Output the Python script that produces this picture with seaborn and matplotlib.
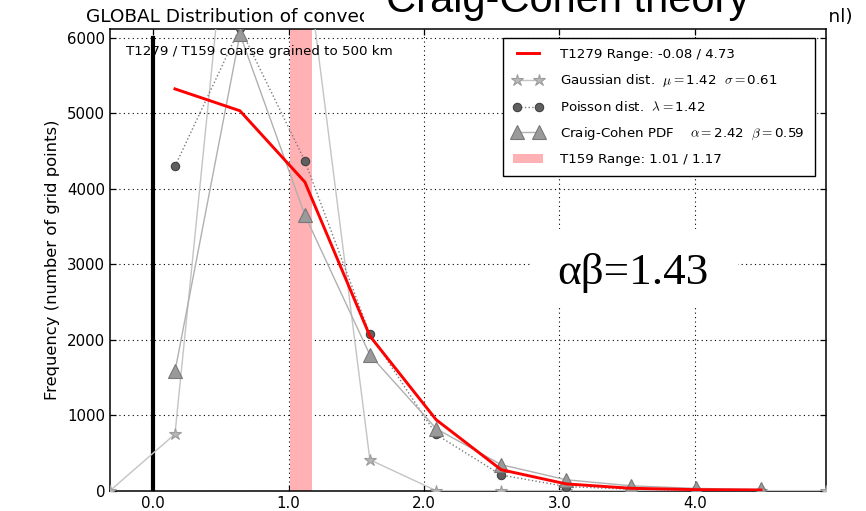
import matplotlib
matplotlib.use("Agg")
import matplotlib.pyplot as plt
import seaborn as sns
import pandas as pd
from matplotlib.patches import Rectangle, Patch
from matplotlib.ticker import FormatStrFormatter

# Bin centres of the convection-intensity histogram (10 bins over the T1279 range)
bin_centres = [0.16, 0.64, 1.12, 1.60, 2.09, 2.57, 3.05, 3.53, 4.01, 4.49]
# The Gaussian fit is evaluated on one extra bin at each side
gauss_centres = [-0.32, 0.16, 0.64, 1.12, 1.60, 2.09, 2.57, 3.05, 3.53, 4.01, 4.49, 4.97]

t1279_counts = [5325, 5035, 4090, 2050, 940, 278, 90, 32, 14, 9]
gauss_counts = [0, 750, 9300, 7200, 410, 0, 0, 0, 0, 0, 0, 0]
poisson_counts = [4300, 6135, 4370, 2075, 745, 208, 55, 20, 4, 1]
craig_cohen_counts = [1580, 6050, 3650, 1800, 822, 345, 145, 65, 30, 17]

t1279_range = (-0.08, 4.73)
t159_range = (1.01, 1.17)
gauss_mu, gauss_sigma = 1.42, 0.61
poisson_lambda = 1.42
cc_alpha, cc_beta = 2.42, 0.59
alpha_beta = 1.43

zero_line_x = [0.0, 0.0]
zero_line_y = [0, 6000]

y_ticks = [0, 1000, 2000, 3000, 4000, 5000, 6000]
x_ticks = [0.0, 1.0, 2.0, 3.0, 4.0]

sns.set_theme(style="white")
plt.rcParams.update({
    "font.family": ["DejaVu Sans"],
    "mathtext.fontset": "cm",
    "text.color": "black",
    "axes.labelcolor": "black",
    "xtick.color": "black",
    "ytick.color": "black",
    "axes.edgecolor": "black",
    "axes.linewidth": 1.1,
    "xtick.direction": "in",
    "ytick.direction": "in",
    "xtick.top": True,
    "ytick.right": True,
    "xtick.bottom": True,
    "ytick.left": True,
    "xtick.major.size": 4,
    "ytick.major.size": 4,
    "xtick.major.width": 0.9,
    "ytick.major.width": 0.9,
    "lines.solid_capstyle": "projecting",
})

W, H = 866, 511
fig = plt.figure(figsize=(W / 100, H / 100), dpi=100)
fig.patch.set_facecolor("white")
ax_left, ax_right, ax_top, ax_bottom = 110, 826, 29.3, 490.7
ax = fig.add_axes([ax_left / W, 1 - ax_bottom / H, (ax_right - ax_left) / W, (ax_bottom - ax_top) / H])
ax.set_facecolor("white")

df_bins = pd.DataFrame({
    "centre": bin_centres,
    "t1279": t1279_counts,
    "poisson": poisson_counts,
    "craig": craig_cohen_counts,
})
df_gauss = pd.DataFrame({"centre": gauss_centres, "gauss": gauss_counts})

# grid under everything
ax.set_axisbelow(True)
ax.grid(True, color="black", linestyle=(0, (1, 3)), linewidth=0.8)

# T159 range band
ax.axvspan(*t159_range, color="#ffb1b4", lw=0, zorder=1)

# zero reference line
ax.plot(zero_line_x, zero_line_y, color="black", lw=3, zorder=2)

sns.lineplot(data=df_bins, x="centre", y="t1279", ax=ax, color="red", lw=2.1,
             zorder=6, label=f"T1279 Range: {t1279_range[0]:.2f} / {t1279_range[1]:.2f}")
sns.lineplot(data=df_gauss, x="centre", y="gauss", ax=ax, color="#c4c4c4", lw=1.0,
             marker="*", markersize=9, markerfacecolor="#b8b8b8", markeredgecolor="#9c9c9c",
             markeredgewidth=0.8, zorder=3,
             label=rf"Gaussian dist.  $\mu=$" + f"{gauss_mu:.2f}" + rf"  $\sigma=$" + f"{gauss_sigma:.2f}")
sns.lineplot(data=df_bins, x="centre", y="poisson", ax=ax, color="#7a7a7a", lw=1.0,
             linestyle=":", marker="o", markersize=6, markerfacecolor="#606060",
             markeredgecolor="#404040", markeredgewidth=0.8, zorder=4,
             label=rf"Poisson dist.  $\lambda=$" + f"{poisson_lambda:.2f}")
sns.lineplot(data=df_bins, x="centre", y="craig", ax=ax, color="#b0b0b0", lw=1.0,
             marker="^", markersize=9.5, markerfacecolor="#9a9a9a", markeredgecolor="#787878",
             markeredgewidth=0.8, zorder=5,
             label=rf"Craig-Cohen PDF    $\alpha=$" + f"{cc_alpha:.2f}" + rf"  $\beta=$" + f"{cc_beta:.2f}")

ax.set_xlim(gauss_centres[0], gauss_centres[-1])
ax.set_ylim(0, 6115)
ax.set_xticks(x_ticks)
ax.set_yticks(y_ticks)
ax.xaxis.set_major_formatter(FormatStrFormatter("%.1f"))
ax.tick_params(axis="both", labelsize=10.8, pad=3.5)
ax.set_xlabel("")
ax.set_ylabel("Frequency (number of grid points)", fontsize=11.8, labelpad=5)

ax.text(0.022, 0.9515, "T1279 / T159 coarse grained to 500 km", transform=ax.transAxes,
        fontsize=9.6, ha="left", va="center", zorder=7)

handles, labels = ax.get_legend_handles_labels()
handles.append(Patch(facecolor="#ffb1b4", edgecolor="none"))
labels.append(f"T159 Range: {t159_range[0]:.2f} / {t159_range[1]:.2f}")
leg = ax.legend(handles, labels, loc="upper right",
                bbox_to_anchor=((815 - ax_left) / (ax_right - ax_left), 1 - (38 - ax_top) / (ax_bottom - ax_top)),
                borderaxespad=0, fontsize=9.6, numpoints=2, handlelength=2.25, handletextpad=1.3,
                labelspacing=0.84, borderpad=0.75, fancybox=False, framealpha=1, edgecolor="black")
leg.get_frame().set_linewidth(1.0)
leg.set_zorder(10)

# title running across the top
ax.text((86 - ax_left) / (ax_right - ax_left), 1 + 7.3 / (ax_bottom - ax_top),
        "GLOBAL Distribution of convective precipitation (mm/h), T1279 and T159 (knmi.nl)",
        transform=ax.transAxes, fontsize=13.3, ha="left", va="baseline", clip_on=False)

# heading panel over the title
fig.add_artist(Rectangle((364 / W, 1 - 27 / H), (828 - 364) / W, 27 / H,
                         transform=fig.transFigure, facecolor="white", edgecolor="none", zorder=20))
fig.text(568 / W, 1 - 12 / H, "Craig-Cohen theory", fontsize=30, family="Liberation Sans",
         ha="center", va="baseline", zorder=21)

# product annotation panel
fig.add_artist(Rectangle((530 / W, 1 - 307 / H), (738 - 530) / W, (307 - 229) / H,
                         transform=fig.transFigure, facecolor="white", edgecolor="none", zorder=20))
fig.text(632.5 / W, 1 - 284 / H, f"αβ={alpha_beta:.2f}", fontsize=32.5, family="Liberation Serif",
         ha="center", va="baseline", zorder=21)

fig.savefig("out.png", dpi=100, facecolor="white")
